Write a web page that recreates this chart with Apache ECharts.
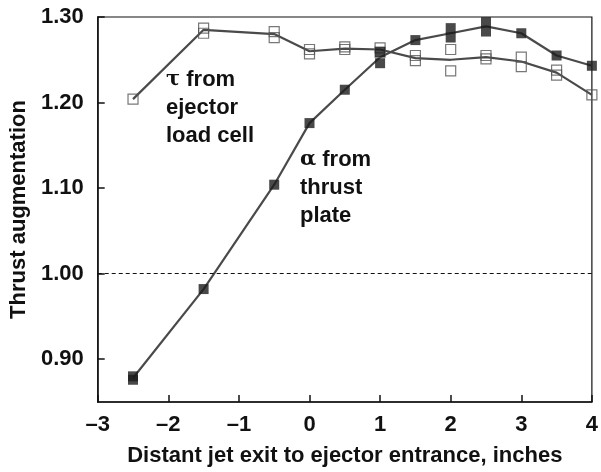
<!DOCTYPE html>
<html>
<head>
<meta charset="utf-8">
<script src="https://cdn.jsdelivr.net/npm/echarts@6/dist/echarts.min.js"></script>
<style>
  html, body { margin: 0; padding: 0; background: #fff; }
  #main { width: 601px; height: 472px; }
</style>
</head>
<body>
<div id="main"></div>
<script>
// jet positions (inches)
var xPos = [-2.5, -1.5, -0.5, 0, 0.5, 1, 1.5, 2, 2.5, 3, 3.5, 4];

// alpha, from thrust plate: mean curve + individual runs
var alphaMean = [0.878, 0.982, 1.104, 1.176, 1.215, 1.253, 1.273, 1.281, 1.289, 1.281, 1.255, 1.243];
var alphaRuns = [
    [-2.5, 0.876], [-2.5, 0.880], [-1.5, 0.982], [-0.5, 1.104], [0, 1.176],
    [0.5, 1.215], [1, 1.259], [1, 1.246], [1.5, 1.273], [2, 1.287], [2, 1.276],
    [2.5, 1.294], [2.5, 1.283], [3, 1.281], [3.5, 1.255], [4, 1.243]
];

// tau, from ejector load cell
var tauMean = [1.204, 1.285, 1.280, 1.260, 1.263, 1.262, 1.252, 1.250, 1.253, 1.248, 1.235, 1.209];
var tauRuns = [
    [-2.5, 1.204], [-1.5, 1.287], [-1.5, 1.281], [-0.5, 1.283], [-0.5, 1.276],
    [0, 1.262], [0, 1.257], [0.5, 1.265], [0.5, 1.262], [1, 1.264], [1, 1.259],
    [1.5, 1.255], [1.5, 1.249], [2, 1.262], [2, 1.237], [2.5, 1.255], [2.5, 1.251],
    [3, 1.253], [3, 1.242], [3.5, 1.238], [3.5, 1.232], [4, 1.209]
];

var yTicks = [0.9, 1.0, 1.1, 1.2, 1.3];

function pairs(xs, ys) {
    return xs.map(function (x, i) { return [x, ys[i]]; });
}

var font = 'Liberation Sans, Arial, Helvetica, sans-serif';
var txt = { fontFamily: font, fontWeight: 'bold', fontSize: 22, color: '#111' };
var chart = echarts.init(document.getElementById('main'));

var option = {
    animation: false,
    backgroundColor: '#fff',
    grid: {
        left: 97, right: 7, top: 17, bottom: 69,
        show: true, borderColor: '#111', borderWidth: 1.2
    },
    xAxis: {
        type: 'value',
        min: -3, max: 4, interval: 1,
        name: 'Distant jet exit to ejector entrance, inches',
        nameLocation: 'middle',
        nameGap: 43,
        nameTextStyle: txt,
        axisLine: { show: true, onZero: false, lineStyle: { color: '#111', width: 1.5 } },
        axisTick: { show: true, inside: true, length: 7, lineStyle: { color: '#111', width: 1.5 } },
        axisLabel: Object.assign({
            margin: 12,
            formatter: function (v) { return String(v).replace('-', '\u2013'); }
        }, txt),
        splitLine: { show: false }
    },
    yAxis: {
        type: 'value',
        min: 0.85, max: 1.30,
        name: 'Thrust augmentation',
        nameLocation: 'middle',
        nameGap: 66,
        nameTextStyle: txt,
        axisLine: { show: true, onZero: false, lineStyle: { color: '#111', width: 1.5 } },
        axisTick: { show: true, inside: true, length: 7, customValues: yTicks, lineStyle: { color: '#111', width: 1.5 } },
        axisLabel: Object.assign({
            margin: 14,
            customValues: yTicks,
            formatter: function (v) { return v.toFixed(2); }
        }, txt),
        splitLine: { show: false }
    },
    graphic: [
        {
            type: 'text', left: 166, top: 66,
            style: {
                text: '{g|\u03c4} from\nejector\nload cell',
                fontFamily: font, fontWeight: 'bold', fontSize: 22, lineHeight: 28, fill: '#111',
                rich: { g: { fontFamily: 'DejaVu Serif, serif', fontWeight: 'bold', fontSize: 21, lineHeight: 28 } }
            }
        },
        {
            type: 'text', left: 300, top: 146,
            style: {
                text: '{g|\u03b1} from\nthrust\nplate',
                fontFamily: font, fontWeight: 'bold', fontSize: 22, lineHeight: 28, fill: '#111',
                rich: { g: { fontFamily: 'DejaVu Serif, serif', fontWeight: 'bold', fontSize: 21, lineHeight: 28 } }
            }
        }
    ],
    series: [
        {
            type: 'line',
            data: pairs(xPos, tauMean),
            showSymbol: false,
            lineStyle: { color: '#4a4a4a', width: 2.2 },
            z: 2,
            markLine: {
                silent: true,
                symbol: 'none',
                label: { show: false },
                lineStyle: { color: '#111', type: [4, 3], width: 1 },
                data: [{ yAxis: 1.0 }]
            }
        },
        {
            type: 'scatter',
            data: tauRuns,
            symbol: 'rect',
            symbolSize: 10,
            itemStyle: { color: 'rgba(255,255,255,0)', borderColor: '#555', borderWidth: 1.2 },
            z: 3
        },
        {
            type: 'line',
            data: pairs(xPos, alphaMean),
            showSymbol: false,
            lineStyle: { color: '#4a4a4a', width: 2.2 },
            z: 2
        },
        {
            type: 'scatter',
            data: alphaRuns,
            symbol: 'rect',
            symbolSize: 10,
            itemStyle: { color: '#1c1c1c' },
            z: 4
        }
    ]
};

chart.setOption(option);
</script>
</body>
</html>
